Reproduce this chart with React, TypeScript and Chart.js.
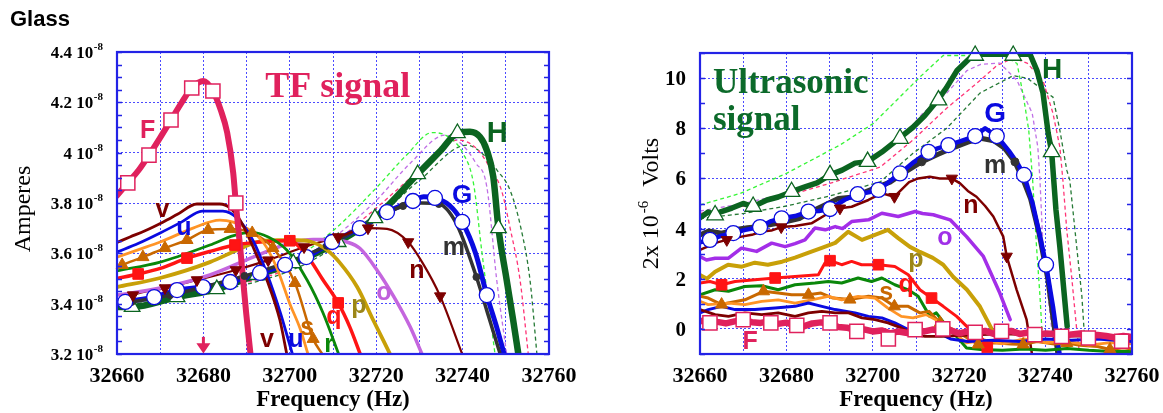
import React, { useEffect, useRef } from "react";
import { Chart, registerables } from "chart.js";
Chart.register(...registerables);

// ---------------- axes ----------------
const freqLabels = [32660, 32680, 32700, 32720, 32740, 32760];
const leftYTicks = [3.2, 3.4, 3.6, 3.8, 4.0, 4.2, 4.4];
const leftYTickText = ["3.2", "3.4", "3.6", "3.8", "4", "4.2", "4.4"];
const leftExponent = "-8";
const rightYTicks = [0, 2, 4, 6, 8, 10];
const rightYTickText = ["0", "2", "4", "6", "8", "10"];

// ---------------- TF signal (Amperes, units of 1e-8) ----------------
const tfF_f = [32660, 32662.5, 32665, 32667.4, 32670, 32672.5, 32675, 32677.3, 32680, 32682.2, 32684, 32685.5, 32686.9, 32687.5, 32688.5, 32689.2, 32689.9, 32690.9];
const tfF_a = [3.83, 3.88, 3.93, 3.99, 4.06, 4.13, 4.2, 4.257, 4.285, 4.245, 4.17, 4.08, 3.92, 3.8, 3.625, 3.494, 3.363, 3.2];
const tfFm_f = [32662.5, 32667.4, 32672.5, 32677.3, 32682.2, 32687.5];
const tfFm_a = [3.88, 3.99, 4.13, 4.257, 4.245, 3.8];

const tfV_f = [32660, 32663, 32666.5, 32670.6, 32674, 32678.5, 32683.8, 32686.2, 32688.5, 32691.5, 32694.7, 32697.7, 32699.3];
const tfV_a = [3.643, 3.665, 3.69, 3.724, 3.755, 3.796, 3.796, 3.78, 3.732, 3.625, 3.494, 3.335, 3.2];
const tfU_f = [32660, 32665, 32670, 32675, 32679.7, 32684.5, 32687.8, 32691.5, 32694.7, 32697.7, 32700.6];
const tfU_a = [3.605, 3.64, 3.681, 3.725, 3.768, 3.768, 3.74, 3.65, 3.52, 3.37, 3.2];
const tfT_f = [32660, 32665, 32670, 32677.6, 32683.8, 32686.9, 32690, 32693.8, 32697, 32700, 32702.4, 32704.2];
const tfT_a = [3.585, 3.615, 3.645, 3.7, 3.732, 3.724, 3.7, 3.645, 3.542, 3.4, 3.3, 3.2];
const tfS_f = [32660, 32661.2, 32666, 32671.1, 32676.2, 32681.1, 32686.2, 32691.3, 32696.1, 32701.2, 32705.4, 32707.5];
const tfS_a = [3.545, 3.554, 3.585, 3.621, 3.653, 3.693, 3.697, 3.681, 3.621, 3.482, 3.26, 3.2];
const tfSm_f = [32661.2, 32666, 32671.1, 32676.2, 32681.1, 32686.2, 32691.3, 32696.1, 32701.2, 32705.4];
const tfSm_a = [3.554, 3.585, 3.621, 3.653, 3.693, 3.697, 3.681, 3.621, 3.482, 3.26];
const tfR_f = [32660, 32670, 32681.5, 32687, 32691, 32695, 32699.3, 32704, 32707.7, 32711.3];
const tfR_a = [3.53, 3.565, 3.633, 3.67, 3.683, 3.665, 3.613, 3.494, 3.363, 3.2];
const tfQ_f = [32660, 32664.9, 32670, 32676.2, 32682, 32687.3, 32693, 32700, 32704, 32707.7, 32711.2, 32713.9, 32716.3];
const tfQ_a = [3.5, 3.518, 3.54, 3.581, 3.61, 3.633, 3.645, 3.65, 3.59, 3.494, 3.403, 3.307, 3.2];
const tfQm_f = [32664.9, 32676.2, 32687.3, 32700, 32711.2];
const tfQm_a = [3.518, 3.581, 3.633, 3.65, 3.403];
const tfP_f = [32660, 32670, 32681.5, 32687.8, 32692.4, 32697, 32701.6, 32704.5, 32708.6, 32711.6, 32715.6, 32719.3, 32723.2];
const tfP_a = [3.466, 3.502, 3.565, 3.613, 3.645, 3.652, 3.652, 3.648, 3.613, 3.562, 3.466, 3.335, 3.2];
const tfO_f = [32660, 32670, 32681.5, 32691.5, 32700, 32705.4, 32710, 32713.2, 32716.2, 32720.2, 32724, 32727.8, 32730.6];
const tfO_a = [3.434, 3.462, 3.514, 3.585, 3.64, 3.655, 3.655, 3.645, 3.62, 3.533, 3.43, 3.31, 3.2];
const tfN_f = [32660, 32663.7, 32671.1, 32678.5, 32687.5, 32695, 32703.3, 32711.2, 32718.1, 32722.5, 32727.4, 32730.8, 32734.8, 32739.9];
const tfN_a = [3.395, 3.434, 3.462, 3.494, 3.534, 3.573, 3.625, 3.665, 3.7, 3.697, 3.645, 3.56, 3.43, 3.2];
const tfNm_f = [32663.7, 32671.1, 32678.5, 32687.5, 32695, 32703.3, 32711.2, 32718.1, 32727.4, 32734.8];
const tfNm_a = [3.434, 3.462, 3.494, 3.534, 3.573, 3.625, 3.665, 3.7, 3.645, 3.43];
const tfM_f = [32660, 32663.4, 32672.3, 32681, 32689.5, 32698.4, 32708.6, 32717, 32726.2, 32730.5, 32734.5, 32738.5, 32743.2, 32746, 32748.7];
const tfM_a = [3.4, 3.407, 3.434, 3.47, 3.51, 3.558, 3.63, 3.71, 3.788, 3.8, 3.796, 3.72, 3.506, 3.35, 3.2];
const tfMm_f = [32663.4, 32672.3, 32681, 32689.5, 32698.4, 32708.6, 32717, 32726.2, 32734.5, 32743.2];
const tfMm_a = [3.407, 3.434, 3.47, 3.51, 3.558, 3.63, 3.71, 3.788, 3.796, 3.506];
const tfG_f = [32660, 32661.9, 32668.6, 32673.9, 32679.9, 32686.2, 32693.1, 32698.9, 32703.8, 32709.8, 32716.2, 32722.5, 32728.5, 32731, 32733.6, 32737, 32739.9, 32743, 32745.6, 32748, 32749.6];
const tfG_a = [3.4, 3.407, 3.426, 3.454, 3.466, 3.486, 3.522, 3.554, 3.585, 3.645, 3.7, 3.764, 3.808, 3.825, 3.82, 3.79, 3.725, 3.6, 3.434, 3.3, 3.2];
const tfGm_f = [32661.9, 32668.6, 32673.9, 32679.9, 32686.2, 32693.1, 32698.9, 32703.8, 32709.8, 32716.2, 32722.5, 32728.5, 32733.6, 32739.9, 32745.6];
const tfGm_a = [3.407, 3.426, 3.454, 3.466, 3.486, 3.522, 3.554, 3.585, 3.645, 3.7, 3.764, 3.808, 3.82, 3.725, 3.434];
const tfH_f = [32660, 32663.5, 32673.9, 32683.1, 32692.4, 32700.8, 32711.2, 32719.7, 32729.6, 32735, 32738.8, 32741.7, 32744, 32745.6, 32747.1, 32748.3, 32750.2, 32751.7, 32752.9];
const tfH_a = [3.387, 3.387, 3.426, 3.458, 3.514, 3.561, 3.645, 3.74, 3.915, 4.01, 4.078, 4.083, 4.063, 4.01, 3.904, 3.7, 3.494, 3.335, 3.2];
const tfHm_f = [32663.5, 32673.9, 32683.1, 32692.4, 32700.8, 32711.2, 32719.7, 32729.6, 32738.8, 32748.3];
const tfHm_a = [3.387, 3.426, 3.458, 3.514, 3.561, 3.645, 3.74, 3.915, 4.078, 3.7];
const tfLg_f = [32660, 32680, 32700, 32710, 32720, 32727, 32733, 32737, 32740, 32742.5, 32744.5, 32746, 32747.5];
const tfLg_a = [3.41, 3.46, 3.57, 3.69, 3.86, 3.99, 4.08, 4.06, 4.0, 3.88, 3.6, 3.4, 3.2];
const tfPu_f = [32660, 32680, 32700, 32710, 32720, 32728, 32736, 32740, 32743, 32745.6, 32747.9, 32750.2];
const tfPu_a = [3.4, 3.45, 3.55, 3.66, 3.81, 3.96, 4.07, 4.03, 3.96, 3.865, 3.494, 3.2];
const tfPk_f = [32660, 32680, 32700, 32710, 32720, 32730, 32739, 32743, 32746, 32749, 32751, 32753.3, 32755.2];
const tfPk_a = [3.4, 3.45, 3.54, 3.64, 3.78, 3.93, 4.05, 4.02, 3.95, 3.85, 3.7, 3.494, 3.2];
const tfDg_f = [32660, 32680, 32700, 32710, 32720, 32730, 32741, 32745, 32748, 32751, 32753.5, 32755.6, 32757.2];
const tfDg_a = [3.39, 3.44, 3.53, 3.62, 3.74, 3.89, 4.03, 3.99, 3.93, 3.85, 3.7, 3.494, 3.2];

// ---------------- Ultrasonic signal (2x10^-6 Volts) ----------------
const usF_f = [32660, 32662, 32664, 32666, 32668, 32670, 32672, 32674, 32676, 32678, 32680, 32682, 32684, 32686, 32688, 32690, 32692, 32694, 32696, 32698, 32700, 32702, 32704, 32706, 32708, 32710, 32712, 32714, 32716, 32718, 32720, 32722, 32724, 32726, 32728, 32730, 32732, 32734, 32736, 32738, 32740, 32742, 32744, 32746, 32748, 32750, 32752, 32754, 32756, 32758, 32760];
const usF_v = [0.3, 0.37, 0.28, 0.22, 0.3, 0.36, 0.27, 0.24, 0.3, 0.2, 0.25, 0.14, 0.1, 0.22, 0.26, 0.18, 0.08, 0.05, -0.05, -0.02, -0.1, -0.06, -0.18, -0.1, -0.16, -0.04, -0.1, -0.02, -0.12, -0.06, -0.18, -0.1, -0.16, -0.08, -0.2, -0.12, -0.08, -0.2, -0.14, -0.24, -0.18, -0.2, -0.3, -0.22, -0.18, -0.3, -0.24, -0.28, -0.34, -0.28, -0.32];
const usFm_f = [32662.3, 32670, 32676.4, 32682.4, 32690.1, 32696.3, 32703.6, 32709.8, 32716.2, 32723.7, 32729.8, 32737.5, 32743.7, 32749.9, 32757.6];
const usFm_v = [0.24, 0.37, 0.24, 0.14, 0.24, -0.1, -0.4, -0.03, 0.0, -0.14, -0.1, -0.23, -0.3, -0.36, -0.49];
const usV_f = [32660, 32663.5, 32666.6, 32670.4, 32674.3, 32678.1, 32682, 32685.1, 32688.2, 32691.3, 32694.4, 32697.5, 32700.5, 32703.5, 32706.6, 32709.8, 32712.1, 32716, 32722, 32730, 32740, 32750, 32760];
const usV_v = [0.77, 0.57, 0.5, 0.64, 0.57, 0.64, 0.5, 0.64, 0.7, 0.64, 0.64, 0.44, 0.37, 0.24, 0.04, -0.23, -0.3, -0.3, -0.25, -0.2, -0.25, -0.3, -0.3];
const usU_f = [32660, 32661.9, 32665, 32668.1, 32672.7, 32677.4, 32682, 32685.1, 32688.2, 32691.3, 32695.9, 32699, 32702.1, 32705.1, 32708.2, 32710.9, 32714.5, 32718, 32722, 32728, 32734, 32740, 32746, 32752, 32760];
const usU_v = [0.64, 0.77, 0.9, 0.77, 0.77, 0.83, 0.9, 1.03, 0.9, 0.77, 0.64, 0.5, 0.44, 0.24, -0.03, 0.0, -0.1, -0.4, -0.5, -0.45, -0.5, -0.4, -0.45, -0.4, -0.5];
const usT_f = [32660, 32661.9, 32666.6, 32670.4, 32674.3, 32678.1, 32682, 32685.8, 32689.7, 32692.8, 32696.6, 32700.5, 32703.5, 32706.6, 32709.3, 32712.3, 32714.5, 32717.1, 32721.7, 32726, 32730, 32735, 32740, 32745, 32750, 32755, 32760];
const usT_v = [1.1, 0.97, 1.03, 0.97, 1.1, 1.16, 1.03, 1.16, 1.3, 1.16, 1.3, 1.23, 0.83, 0.5, 0.44, 0.57, 0.37, 0.1, -0.56, -0.45, -0.6, -0.4, -0.55, -0.5, -0.65, -0.55, -0.6];
const usS_f = [32660, 32661.9, 32665, 32666.5, 32670.4, 32674.7, 32678.1, 32681.2, 32685.1, 32688, 32690.8, 32694.7, 32699, 32702.1, 32705, 32708.2, 32710.9, 32713, 32715.6, 32720, 32724.4, 32728, 32732, 32734.8, 32738, 32742, 32744.9, 32748, 32752, 32754.9, 32758, 32760];
const usS_v = [1.3, 1.23, 0.97, 1.03, 1.16, 1.5, 1.43, 1.36, 1.36, 1.43, 1.23, 1.17, 1.3, 1.23, 0.9, 0.9, 0.64, 0.7, 0.24, -0.16, -0.62, -0.55, -0.6, -0.62, -0.5, -0.6, -0.56, -0.65, -0.7, -0.82, -0.75, -0.8];
const usSm_f = [32665, 32674.7, 32685.1, 32694.7, 32705, 32715.6, 32724.4, 32734.8, 32744.9, 32754.9];
const usSm_v = [0.97, 1.5, 1.36, 1.17, 0.9, 0.24, -0.62, -0.62, -0.56, -0.82];
const usR_f = [32660, 32663.5, 32666.6, 32670.4, 32674.3, 32678.1, 32682, 32686.6, 32689.7, 32692.8, 32696.6, 32699.7, 32702.1, 32705.1, 32708.2, 32710.5, 32713.2, 32714.7, 32717.1, 32719.4, 32721.7, 32725, 32730, 32735, 32740, 32745, 32750, 32755, 32760];
const usR_v = [1.36, 1.56, 1.5, 1.69, 1.72, 1.56, 1.76, 1.83, 1.89, 1.83, 2.03, 1.89, 2.03, 1.76, 1.56, 1.3, 0.5, 0.64, 0.1, -0.3, -0.76, -0.82, -0.85, -0.8, -0.85, -0.78, -0.85, -0.9, -0.9];
const usQ_f = [32660, 32662.3, 32665, 32668.1, 32672.7, 32677.4, 32682, 32687.4, 32688.9, 32690.1, 32692.8, 32695.1, 32697.4, 32701.3, 32705.1, 32708.2, 32710.9, 32713.6, 32716.3, 32719.4, 32722.5, 32725.6, 32726.5];
const usQ_v = [1.83, 1.89, 1.76, 1.89, 1.96, 2.03, 2.09, 2.16, 2.62, 2.72, 2.56, 2.69, 2.56, 2.56, 2.49, 2.16, 1.56, 1.23, 0.9, 0.5, -0.03, -0.43, -0.74];
const usQm_f = [32665, 32677.4, 32690.1, 32701.3, 32713.6, 32726.5];
const usQm_v = [1.76, 2.03, 2.72, 2.56, 1.23, -0.74];
const usP_f = [32660, 32661.6, 32663.5, 32666.5, 32669.7, 32672.7, 32675.7, 32679, 32682, 32685, 32688.2, 32691.3, 32694.3, 32697.5, 32700.5, 32703.5, 32705.8, 32708.6, 32710.9, 32713.9, 32716.3, 32718.6, 32721.8, 32724.8, 32727.6];
const usP_v = [2.15, 2.0, 2.28, 2.56, 2.48, 2.64, 2.56, 2.68, 2.84, 3.03, 3.23, 3.43, 3.87, 3.55, 3.75, 3.95, 3.63, 3.27, 3.07, 2.83, 2.56, 2.08, 1.56, 0.89, -0.03];
const usO_f = [32660, 32661.5, 32663.5, 32666.6, 32669.6, 32673.1, 32676.6, 32679.7, 32682, 32684.3, 32686.6, 32689, 32691.3, 32693, 32695.1, 32699, 32702.1, 32705.9, 32709.8, 32711.5, 32714, 32717.9, 32721.7, 32725.6, 32729.4, 32731.8];
const usO_v = [2.89, 2.75, 2.82, 2.82, 3.22, 3.09, 3.42, 3.28, 3.4, 3.55, 4.02, 3.95, 4.08, 4.0, 4.28, 4.35, 4.61, 4.48, 4.68, 4.6, 4.55, 4.35, 3.68, 2.89, 1.43, 0.37];
const usN_f = [32660, 32662, 32664, 32666.2, 32669.6, 32672, 32674.3, 32676.5, 32678.8, 32682, 32685.8, 32689.7, 32692.4, 32695.1, 32699, 32702.1, 32705, 32708.4, 32710.5, 32713.2, 32715.5, 32718.3, 32720.2, 32722, 32724, 32726, 32727.9, 32730.2, 32731, 32733.3, 32735.6, 32736.8];
const usN_v = [3.15, 3.3, 3.45, 3.55, 3.68, 3.75, 3.88, 3.92, 4.06, 4.1, 4.21, 4.61, 4.81, 4.87, 5.14, 5.41, 5.27, 5.85, 6.0, 6.07, 6.0, 6.0, 5.8, 5.5, 5.27, 4.9, 4.48, 3.68, 2.89, 1.56, 0.37, -0.95];
const usNm_f = [32666.2, 32678.8, 32692.4, 32705, 32718.3, 32731];
const usNm_v = [3.55, 4.06, 4.81, 5.27, 6.0, 2.89];
const usM_f = [32660, 32662, 32665, 32668, 32671, 32674, 32677, 32680, 32683, 32686, 32689, 32692, 32695, 32698, 32701, 32704, 32707, 32711.3, 32715, 32719, 32722, 32725, 32728, 32730.5, 32732.9, 32734.8, 32736.5, 32738.5, 32740.5, 32742.8];
const usM_v = [3.75, 3.9, 3.82, 3.95, 4.03, 4.08, 4.18, 4.28, 4.4, 4.7, 4.95, 5.2, 5.25, 5.45, 5.65, 5.85, 6.2, 6.66, 6.95, 7.25, 7.45, 7.6, 7.5, 7.2, 6.66, 5.94, 5.2, 3.8, 2.0, -0.95];
const usMm_f = [32711.3, 32732.9];
const usMm_v = [6.66, 6.66];
const usG_f = [32660, 32662.3, 32665, 32667.7, 32670.5, 32673.9, 32676.5, 32678.9, 32682, 32685.1, 32687.5, 32690.1, 32693.5, 32696.5, 32699, 32701.3, 32704, 32706.3, 32709.5, 32712.9, 32715, 32717.5, 32720.5, 32723.7, 32726, 32728.7, 32731.5, 32733.5, 32735, 32737, 32738.7, 32740.1, 32741.7, 32743.2];
const usG_v = [3.45, 3.55, 3.72, 3.82, 3.95, 4.06, 4.3, 4.41, 4.5, 4.68, 4.7, 4.78, 5.15, 5.37, 5.45, 5.54, 5.9, 6.2, 6.65, 7.06, 7.2, 7.33, 7.5, 7.69, 8.0, 7.69, 7.1, 6.6, 6.14, 5.0, 3.7, 2.56, 0.9, -0.95];
const usGm_f = [32662.3, 32667.7, 32673.9, 32678.9, 32685.1, 32690.1, 32696.5, 32701.3, 32706.3, 32712.9, 32717.5, 32723.7, 32728.7, 32735, 32740.1];
const usGm_v = [3.55, 3.82, 4.06, 4.41, 4.68, 4.78, 5.37, 5.54, 6.2, 7.06, 7.33, 7.69, 7.69, 6.14, 2.56];
const usH_f = [32660, 32661.9, 32663.5, 32664.6, 32667.4, 32670, 32672.3, 32675.5, 32678.1, 32681.2, 32684.3, 32687.1, 32690.1, 32692.9, 32695.9, 32698.8, 32702.1, 32705.6, 32709.3, 32712, 32714.9, 32717, 32719.5, 32722.5, 32724, 32736.4, 32738, 32739.4, 32740.6, 32741.4, 32742.4, 32743.3, 32745];
const usH_v = [4.43, 4.66, 4.54, 4.66, 4.82, 5.0, 4.88, 5.14, 5.26, 5.47, 5.66, 5.82, 6.14, 6.33, 6.61, 6.67, 7.05, 7.53, 8.04, 8.5, 9.1, 9.6, 10.3, 10.8, 10.95, 10.95, 10.3, 9.4, 7.8, 7.06, 4.74, 3.27, 0.1];
const usHm_f = [32663.5, 32672.3, 32681.2, 32690.1, 32698.8, 32706.3, 32715.2, 32723.7, 32732.5, 32741.4];
const usHm_v = [4.54, 4.88, 5.47, 6.14, 6.67, 7.59, 9.12, 10.9, 10.9, 7.06];
const usLg_f = [32660, 32669.3, 32680, 32692.4, 32700.1, 32706.3, 32710.9, 32716.3, 32730.2, 32733.4, 32734.9, 32736.1, 32737, 32737.9, 32738.7, 32739.1, 32739.5];
const usLg_v = [4.94, 5.4, 6.2, 7.33, 8.19, 9.25, 10.04, 10.9, 10.9, 10.58, 9.24, 7.92, 5.93, 3.28, 1.3, 0.1, -0.7];
const usPu_f = [32660, 32670, 32680, 32690, 32700, 32706, 32711.6, 32717.1, 32721.8, 32725, 32729.4, 32733.4, 32736.9, 32738.2, 32738.7, 32739.4, 32740.6, 32741.7];
const usPu_v = [4.7, 5.0, 5.4, 6.1, 6.9, 7.5, 8.6, 9.4, 10.3, 10.55, 10.6, 9.9, 8.6, 7.25, 5.93, 3.27, 1.3, -0.45];
const usPk_f = [32660, 32670, 32680, 32690, 32701.7, 32709.3, 32717.1, 32724.8, 32728.7, 32732.5, 32735.7, 32739.4, 32741.7, 32743.3, 32744, 32744.9, 32746.1, 32747.2, 32747.8];
const usPk_v = [4.6, 4.9, 5.3, 5.8, 6.45, 7.53, 8.8, 9.9, 10.5, 10.8, 10.6, 9.9, 8.6, 7.25, 5.93, 3.95, 1.96, -0.03, -0.9];
const usDg_f = [32660, 32670, 32680, 32690, 32701.7, 32709.3, 32717.1, 32724.8, 32732.5, 32735.7, 32741.7, 32743.3, 32744.9, 32745.6, 32747.2, 32748.4, 32749];
const usDg_v = [4.4, 4.6, 4.9, 5.3, 5.86, 7.0, 8.0, 9.4, 10.1, 10.0, 9.24, 7.92, 6.33, 5.93, 3.27, 1.3, -0.3];

// ---------------- styling ----------------
const SERIF = '"Liberation Serif", "Times New Roman", serif';
const SANS = '"Liberation Sans", Arial, sans-serif';
const FRAME = "#2323e6";
const GRID = "#4b4bff";
const CRIMSON = "#e0215d";
const MAROON = "#7d0000";
const BLUE = "#0a0ae0";
const LORANGE = "#ff9426";
const DORANGE = "#c96800";
const GREEN = "#0a870a";
const RED = "#ff1414";
const GOLD = "#c8a008";
const GRAY = "#333333";
const DKGREEN = "#0b6420";
const DLG = "#36f536";
const DPU = "#c070e6";
const DPK = "#ff3577";
const DDG = "#267a36";

const pts = (f: number[], v: number[]) => f.map((x, i) => ({ x, y: v[i] }));

function lineDs(f: number[], v: number[], color: string, width: number, smooth: boolean, extra: any = {}) {
  return {
    data: pts(f, v),
    showLine: true,
    borderColor: color,
    backgroundColor: color,
    borderWidth: width,
    pointRadius: 0,
    pointHoverRadius: 0,
    tension: smooth ? 0.4 : 0,
    cubicInterpolationMode: smooth ? "monotone" : "default",
    borderCapStyle: "round",
    borderJoinStyle: "round",
    ...extra,
  };
}
function dashDs(f: number[], v: number[], color: string, smooth: boolean) {
  return lineDs(f, v, color, 1.3, smooth, { borderDash: [4, 3], borderCapStyle: "butt" });
}
function markDs(f: number[], v: number[], style: string, r: number, fill: string, stroke: string, bw: number, rot = 0) {
  return {
    data: pts(f, v),
    showLine: false,
    pointStyle: style,
    pointRadius: r,
    pointHoverRadius: r,
    pointBackgroundColor: fill,
    pointBorderColor: stroke,
    pointBorderWidth: bw,
    pointRotation: rot,
    clip: false,
  };
}

function gridFreqs() {
  const a: number[] = [];
  for (let f = 32660; f <= 32760; f += 10) a.push(f);
  return a;
}

function scales(yMin: number, yMax: number, yGrid: number[], yWidth: number) {
  return {
    x: {
      type: "linear",
      min: 32660,
      max: 32760,
      ticks: { display: false },
      grid: { color: GRID, lineWidth: 1, drawTicks: false },
      border: { display: false, dash: [2, 2] },
      afterBuildTicks: (s: any) => {
        s.ticks = gridFreqs().map((value) => ({ value }));
      },
      afterFit: (s: any) => {
        s.height = 59;
      },
    },
    y: {
      type: "linear",
      min: yMin,
      max: yMax,
      ticks: { display: false },
      grid: { color: GRID, lineWidth: 1, drawTicks: false },
      border: { display: false, dash: [2, 2] },
      afterBuildTicks: (s: any) => {
        s.ticks = yGrid.map((value) => ({ value }));
      },
      afterFit: (s: any) => {
        s.width = yWidth;
      },
    },
  };
}

type Lab = { t: string; f: number; v: number; c: string; s: number; font?: string; align?: string };

function drawFrame(ctx: any, a: any, ys: any, minor: number[]) {
  ctx.save();
  ctx.strokeStyle = FRAME;
  ctx.lineWidth = 1.3;
  ctx.beginPath();
  for (const v of minor) {
    const py = Math.round(ys.getPixelForValue(v)) + 0.5;
    ctx.moveTo(a.left, py);
    ctx.lineTo(a.left + 5, py);
    ctx.moveTo(a.right, py);
    ctx.lineTo(a.right - 5, py);
  }
  ctx.stroke();
  ctx.lineWidth = 2.2;
  ctx.strokeRect(a.left, a.top, a.right - a.left, a.bottom - a.top);
  ctx.restore();
}

function drawLabels(ctx: any, xs: any, ys: any, labels: Lab[]) {
  for (const l of labels) {
    ctx.save();
    ctx.fillStyle = l.c;
    ctx.font = `bold ${l.s}px ${l.font || SANS}`;
    ctx.textAlign = l.align || "center";
    ctx.textBaseline = "alphabetic";
    ctx.fillText(l.t, xs.getPixelForValue(l.f), ys.getPixelForValue(l.v));
    ctx.restore();
  }
}

function drawXAxisText(ctx: any, a: any, xs: any) {
  ctx.save();
  ctx.fillStyle = "#000";
  ctx.font = `bold 22px ${SERIF}`;
  ctx.textAlign = "center";
  ctx.textBaseline = "alphabetic";
  for (const f of freqLabels) ctx.fillText(String(f), xs.getPixelForValue(f), a.bottom + 28);
  ctx.font = `bold 23px ${SERIF}`;
  ctx.fillText("Frequency (Hz)", (a.left + a.right) / 2, a.bottom + 52);
  ctx.restore();
}

function drawRotated(ctx: any, baseX: number, cy: number, segs: { t: string; font: string; dy?: number; gap?: number }[]) {
  ctx.save();
  let total = 0;
  const ws = segs.map((s) => {
    ctx.font = s.font;
    const w = ctx.measureText(s.t).width;
    total += w + (s.gap || 0);
    return w;
  });
  ctx.translate(baseX, cy);
  ctx.rotate(-Math.PI / 2);
  ctx.fillStyle = "#000";
  ctx.textBaseline = "alphabetic";
  ctx.textAlign = "left";
  let x = -total / 2;
  segs.forEach((s, i) => {
    ctx.font = s.font;
    ctx.fillText(s.t, x, s.dy || 0);
    x += ws[i] + (s.gap || 0);
  });
  ctx.restore();
}

const leftLabels: Lab[] = [
  { t: "TF signal", f: 32694.3, v: 4.22, c: CRIMSON, s: 36, font: SERIF, align: "left" },
  { t: "F", f: 32667.1, v: 4.06, c: CRIMSON, s: 25 },
  { t: "v", f: 32670.5, v: 3.744, c: MAROON, s: 25 },
  { t: "u", f: 32675.5, v: 3.673, c: BLUE, s: 25 },
  { t: "v", f: 32694.7, v: 3.228, c: MAROON, s: 25 },
  { t: "u", f: 32701.4, v: 3.228, c: BLUE, s: 25 },
  { t: "s", f: 32704, v: 3.275, c: DORANGE, s: 25 },
  { t: "r", f: 32709.1, v: 3.208, c: GREEN, s: 25 },
  { t: "q", f: 32710.2, v: 3.319, c: RED, s: 25 },
  { t: "p", f: 32716, v: 3.363, c: "#9c8618", s: 25 },
  { t: "o", f: 32721.8, v: 3.415, c: "#c060dc", s: 25 },
  { t: "n", f: 32729.4, v: 3.502, c: MAROON, s: 25 },
  { t: "m", f: 32738, v: 3.593, c: GRAY, s: 25 },
  { t: "G", f: 32739.9, v: 3.8, c: BLUE, s: 26 },
  { t: "H", f: 32748, v: 4.042, c: DKGREEN, s: 29 },
];

const rightLabels: Lab[] = [
  { t: "Ultrasonic", f: 32663, v: 9.39, c: "#0c6a2a", s: 35, font: SERIF, align: "left" },
  { t: "signal", f: 32663, v: 7.92, c: "#0c6a2a", s: 35, font: SERIF, align: "left" },
  { t: "G", f: 32728.3, v: 8.24, c: BLUE, s: 28 },
  { t: "H", f: 32741.5, v: 9.99, c: DKGREEN, s: 28 },
  { t: "m", f: 32728.3, v: 6.21, c: GRAY, s: 25 },
  { t: "n", f: 32722.7, v: 4.62, c: MAROON, s: 25 },
  { t: "o", f: 32716.7, v: 3.35, c: "#a030e8", s: 25 },
  { t: "p", f: 32710, v: 2.48, c: "#9c8618", s: 25 },
  { t: "q", f: 32707.7, v: 1.48, c: RED, s: 25 },
  { t: "s", f: 32703.1, v: 1.17, c: DORANGE, s: 25 },
  { t: "F", f: 32671.6, v: -0.82, c: CRIMSON, s: 25 },
];

const leftDecor = {
  id: "leftDecor",
  afterDraw(chart: any) {
    const { ctx, chartArea: a } = chart;
    const xs = chart.scales.x;
    const ys = chart.scales.y;
    const minor: number[] = [];
    for (let k = 0; k <= 24; k++) minor.push(3.2 + k * 0.05);
    drawFrame(ctx, a, ys, minor);
    drawLabels(ctx, xs, ys, leftLabels);
    // arrow at 32680
    ctx.save();
    const px = xs.getPixelForValue(32680);
    ctx.strokeStyle = CRIMSON;
    ctx.fillStyle = CRIMSON;
    ctx.lineWidth = 3;
    ctx.beginPath();
    ctx.moveTo(px, ys.getPixelForValue(3.268));
    ctx.lineTo(px, ys.getPixelForValue(3.235));
    ctx.stroke();
    ctx.beginPath();
    ctx.moveTo(px - 7, ys.getPixelForValue(3.243));
    ctx.lineTo(px + 7, ys.getPixelForValue(3.243));
    ctx.lineTo(px, ys.getPixelForValue(3.202));
    ctx.closePath();
    ctx.fill();
    ctx.restore();
    // y tick labels with exponent
    ctx.save();
    ctx.fillStyle = "#000";
    ctx.textBaseline = "alphabetic";
    const R = a.left - 14;
    leftYTicks.forEach((v, i) => {
      const py = ys.getPixelForValue(v);
      ctx.font = `bold 11px ${SERIF}`;
      const sw = ctx.measureText(leftExponent).width;
      ctx.textAlign = "left";
      ctx.fillText(leftExponent, R - sw, py - 2);
      ctx.font = `bold 17px ${SERIF}`;
      ctx.textAlign = "right";
      ctx.fillText(leftYTickText[i] + " 10", R - sw - 0.5, py + 6);
    });
    ctx.restore();
    drawXAxisText(ctx, a, xs);
    drawRotated(ctx, a.left - 87, (a.top + a.bottom) / 2 + 6, [{ t: "Amperes", font: `24px ${SERIF}` }]);
    ctx.save();
    ctx.fillStyle = "#000";
    ctx.font = `bold 22px ${SANS}`;
    ctx.textAlign = "left";
    ctx.textBaseline = "alphabetic";
    ctx.fillText("Glass", 10, 26);
    ctx.restore();
  },
};

const rightDecor = {
  id: "rightDecor",
  afterDraw(chart: any) {
    const { ctx, chartArea: a } = chart;
    const xs = chart.scales.x;
    const ys = chart.scales.y;
    const minor: number[] = [];
    for (let k = -1; k <= 11; k++) minor.push(k);
    drawFrame(ctx, a, ys, minor);
    drawLabels(ctx, xs, ys, rightLabels);
    ctx.save();
    ctx.fillStyle = "#000";
    ctx.font = `bold 21px ${SERIF}`;
    ctx.textAlign = "right";
    ctx.textBaseline = "alphabetic";
    rightYTicks.forEach((v, i) => {
      ctx.fillText(rightYTickText[i], a.left - 14, ys.getPixelForValue(v) + 7);
    });
    ctx.restore();
    drawXAxisText(ctx, a, xs);
    drawRotated(ctx, a.left - 42, (a.top + a.bottom) / 2, [
      { t: "2x 10", font: `24px ${SERIF}`, gap: 2 },
      { t: "-6", font: `15px ${SERIF}`, dy: -10, gap: 14 },
      { t: "Volts", font: `24px ${SERIF}` },
    ]);
  },
};

function leftConfig(): any {
  const layers = [
    dashDs(tfDg_f, tfDg_a, DDG, true),
    dashDs(tfPk_f, tfPk_a, DPK, true),
    dashDs(tfPu_f, tfPu_a, DPU, true),
    dashDs(tfLg_f, tfLg_a, DLG, true),
    lineDs(tfH_f, tfH_a, DKGREEN, 6.5, true),
    lineDs(tfG_f, tfG_a, BLUE, 5, true),
    lineDs(tfM_f, tfM_a, GRAY, 3.5, true),
    lineDs(tfN_f, tfN_a, MAROON, 2.2, true),
    lineDs(tfO_f, tfO_a, "#c466de", 3.5, true),
    lineDs(tfP_f, tfP_a, GOLD, 3.8, true),
    lineDs(tfQ_f, tfQ_a, RED, 3.5, true),
    lineDs(tfR_f, tfR_a, GREEN, 2.8, true),
    lineDs(tfS_f, tfS_a, DORANGE, 2.5, true),
    lineDs(tfT_f, tfT_a, LORANGE, 2.8, true),
    lineDs(tfU_f, tfU_a, BLUE, 2.8, true),
    lineDs(tfV_f, tfV_a, MAROON, 2.8, true),
    lineDs(tfF_f, tfF_a, CRIMSON, 6, true),
    markDs(tfHm_f, tfHm_a, "triangle", 9, "#ffffff", DKGREEN, 1.3),
    markDs(tfMm_f, tfMm_a, "circle", 3.5, GRAY, GRAY, 1),
    markDs(tfGm_f, tfGm_a, "circle", 7.5, "#ffffff", BLUE, 1.3),
    markDs(tfNm_f, tfNm_a, "triangle", 6.5, MAROON, MAROON, 1, 180),
    markDs(tfQm_f, tfQm_a, "rect", 7.5, RED, RED, 1),
    markDs(tfSm_f, tfSm_a, "triangle", 7, DORANGE, DORANGE, 1),
    markDs(tfFm_f, tfFm_a, "rect", 10, "#ffffff", CRIMSON, 1.5),
  ];
  return {
    type: "scatter",
    data: { datasets: layers.reverse() },
    options: {
      responsive: false,
      animation: false,
      events: [],
      layout: { padding: { left: 0, top: 52, right: 31, bottom: 0 } },
      plugins: { legend: { display: false }, tooltip: { enabled: false } },
      scales: scales(3.2, 4.4, leftYTicks, 117),
    },
    plugins: [leftDecor],
  };
}

function rightConfig(): any {
  const layers = [
    dashDs(usDg_f, usDg_v, DDG, false),
    dashDs(usPk_f, usPk_v, DPK, false),
    dashDs(usPu_f, usPu_v, DPU, false),
    dashDs(usLg_f, usLg_v, DLG, false),
    lineDs(usH_f, usH_v, DKGREEN, 5.5, false),
    lineDs(usM_f, usM_v, GRAY, 5, false),
    lineDs(usG_f, usG_v, BLUE, 4.5, false),
    lineDs(usN_f, usN_v, MAROON, 2.5, false),
    lineDs(usO_f, usO_v, "#a32ee8", 3.5, false),
    lineDs(usP_f, usP_v, GOLD, 4, false),
    lineDs(usQ_f, usQ_v, RED, 3, false),
    lineDs(usR_f, usR_v, GREEN, 3, false),
    lineDs(usS_f, usS_v, DORANGE, 3, false),
    lineDs(usT_f, usT_v, LORANGE, 2.8, false),
    lineDs(usU_f, usU_v, BLUE, 3, false),
    lineDs(usV_f, usV_v, MAROON, 2.8, false),
    lineDs(usF_f, usF_v, CRIMSON, 6.5, false),
    markDs(usHm_f, usHm_v, "triangle", 9.5, "#ffffff", DKGREEN, 1.3),
    markDs(usMm_f, usMm_v, "circle", 4, GRAY, GRAY, 1),
    markDs(usGm_f, usGm_v, "circle", 7.5, "#ffffff", BLUE, 1.3),
    markDs(usNm_f, usNm_v, "triangle", 6.5, MAROON, MAROON, 1, 180),
    markDs(usQm_f, usQm_v, "rect", 7.5, RED, RED, 1),
    markDs(usSm_f, usSm_v, "triangle", 7, DORANGE, DORANGE, 1),
    markDs(usFm_f, usFm_v, "rect", 10, "#ffffff", CRIMSON, 1.5),
  ];
  const grid = [-1, ...rightYTicks, 11];
  return {
    type: "scatter",
    data: { datasets: layers.reverse() },
    options: {
      responsive: false,
      animation: false,
      events: [],
      layout: { padding: { left: 0, top: 53, right: 31, bottom: 0 } },
      plugins: { legend: { display: false }, tooltip: { enabled: false } },
      scales: scales(-1, 11, grid, 100),
    },
    plugins: [rightDecor],
  };
}

export default function App() {
  const leftRef = useRef<HTMLCanvasElement>(null);
  const rightRef = useRef<HTMLCanvasElement>(null);
  useEffect(() => {
    const c1 = new Chart(leftRef.current as HTMLCanvasElement, leftConfig());
    const c2 = new Chart(rightRef.current as HTMLCanvasElement, rightConfig());
    return () => {
      c1.destroy();
      c2.destroy();
    };
  }, []);
  return (
    <div style={{ position: "fixed", left: 0, top: 0, width: 1163, height: 413, background: "#ffffff", overflow: "hidden" }}>
      <canvas ref={leftRef} width={580} height={413} style={{ position: "absolute", left: 0, top: 0, width: 580, height: 413 }} />
      <canvas ref={rightRef} width={563} height={413} style={{ position: "absolute", left: 600, top: 0, width: 563, height: 413 }} />
    </div>
  );
}
